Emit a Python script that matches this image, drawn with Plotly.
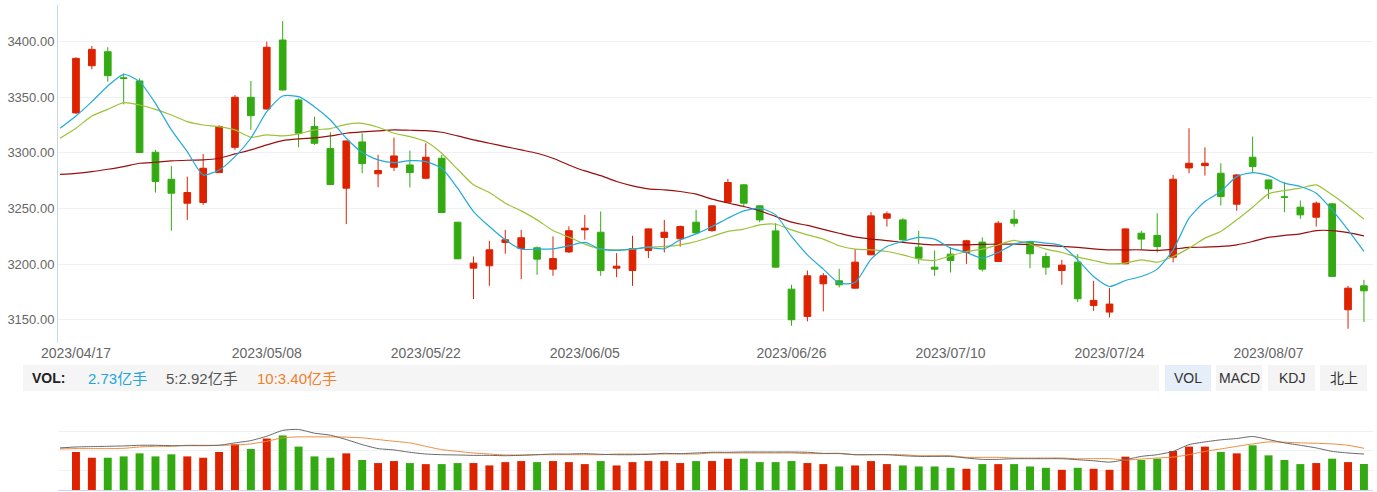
import plotly.graph_objects as go

# ---------------- data ----------------
dates = [
    "2023/04/17", "2023/04/18", "2023/04/19", "2023/04/20", "2023/04/21",
    "2023/04/24", "2023/04/25", "2023/04/26", "2023/04/27", "2023/04/28",
    "2023/05/04", "2023/05/05", "2023/05/08", "2023/05/09", "2023/05/10",
    "2023/05/11", "2023/05/12", "2023/05/15", "2023/05/16", "2023/05/17",
    "2023/05/18", "2023/05/19", "2023/05/22", "2023/05/23", "2023/05/24",
    "2023/05/25", "2023/05/26", "2023/05/29", "2023/05/30", "2023/05/31",
    "2023/06/01", "2023/06/02", "2023/06/05", "2023/06/06", "2023/06/07",
    "2023/06/08", "2023/06/09", "2023/06/12", "2023/06/13", "2023/06/14",
    "2023/06/15", "2023/06/16", "2023/06/19", "2023/06/20", "2023/06/21",
    "2023/06/26", "2023/06/27", "2023/06/28", "2023/06/29", "2023/06/30",
    "2023/07/03", "2023/07/04", "2023/07/05", "2023/07/06", "2023/07/07",
    "2023/07/10", "2023/07/11", "2023/07/12", "2023/07/13", "2023/07/14",
    "2023/07/17", "2023/07/18", "2023/07/19", "2023/07/20", "2023/07/21",
    "2023/07/24", "2023/07/25", "2023/07/26", "2023/07/27", "2023/07/28",
    "2023/07/31", "2023/08/01", "2023/08/02", "2023/08/03", "2023/08/04",
    "2023/08/07", "2023/08/08", "2023/08/09", "2023/08/10", "2023/08/11",
    "2023/08/14", "2023/08/15",
]
prev_date = "2023/04/14"   # day before window, MA lines start there

opens = [3336, 3378.4, 3391, 3367.5, 3364.7, 3300.6, 3276.3, 3254.8, 3255.4, 3282.3,
         3305, 3350, 3339.5, 3401.5, 3347.6, 3323.7, 3303.9, 3268.3, 3309.9, 3281.2,
         3287.1, 3289.2, 3277.2, 3295.2, 3237.7, 3196.4, 3198.5, 3219.5, 3214, 3214.7,
         3195.5, 3211, 3230.8, 3228.7, 3196.4, 3194.3, 3212.3, 3224, 3222.8, 3237.7,
         3230.2, 3255.7, 3271.3, 3252.4, 3229.9, 3177.5, 3153, 3182.3, 3185, 3178.4,
         3208.4, 3241.3, 3239.8, 3215.3, 3197.3, 3209, 3210.5, 3219.8, 3202.4, 3240.4,
         3219.8, 3206.9, 3194.3, 3201.8, 3162.9, 3156.9, 3200.3, 3227.8, 3225.8, 3206.3,
         3286.5, 3288.6, 3281.7, 3253.9, 3296.1, 3275.7, 3260.5, 3251.2, 3242.2, 3254.2,
         3159, 3180.5]
highs = [3386, 3396.1, 3395, 3371.6, 3367, 3302.7, 3288.3, 3278.7, 3299, 3325,
         3352, 3364.7, 3400, 3418.6, 3349, 3332.6, 3318.6, 3311, 3317.7, 3298.2,
         3313.8, 3302.1, 3308.7, 3298.2, 3238, 3206.9, 3221, 3230.8, 3230.8, 3215.9,
         3224.9, 3234, 3244.3, 3247.3, 3209.9, 3225.5, 3232, 3239.8, 3234.7, 3248.8,
         3253, 3276.6, 3272, 3253, 3236.8, 3181.4, 3194.3, 3191.9, 3195.8, 3213.5,
         3246.7, 3247.3, 3241.3, 3230, 3212.3, 3215.3, 3221.9, 3224, 3238.9, 3248.8,
         3220.4, 3210.5, 3203.9, 3209, 3185, 3178.4, 3232, 3229.9, 3245.8, 3280.2,
         3322.2, 3305, 3290.7, 3281, 3314.7, 3276, 3273.7, 3257.2, 3256.3, 3255,
         3180.5, 3185.9]
lows = [3335, 3375.2, 3364, 3343.7, 3300, 3264.4, 3230, 3239.8, 3253.3, 3282,
        3302.7, 3320.7, 3339, 3356, 3305, 3307.2, 3271, 3236, 3281.7, 3269.2,
        3283.8, 3268.9, 3276.3, 3246, 3204.5, 3168.6, 3180.5, 3209.3, 3186.5, 3190.4,
        3189.5, 3210, 3221.9, 3189.5, 3188.3, 3180.5, 3205.4, 3210.5, 3215.6, 3227,
        3229, 3255, 3251.2, 3237.7, 3197, 3144.6, 3148.5, 3157.5, 3179, 3178,
        3208, 3233.8, 3221, 3200.3, 3189.5, 3192.5, 3200.3, 3193.4, 3202, 3233.8,
        3196.4, 3190.4, 3181.4, 3165.9, 3158, 3152.1, 3200, 3213.5, 3210.5, 3201.5,
        3281.7, 3279.6, 3252.7, 3248, 3281.7, 3258.7, 3246.7, 3240.7, 3233.8, 3188.6,
        3141.9, 3148]
closes = [3385, 3393.1, 3369.5, 3367, 3300.3, 3274.3, 3263.8, 3264.4, 3286.2, 3323.7,
          3350, 3333.5, 3395, 3356.6, 3317.7, 3308.7, 3271.6, 3310.8, 3290.4, 3284.2,
          3297.3, 3282.3, 3296.1, 3246.4, 3204.8, 3200.9, 3212.9, 3221.9, 3223.7, 3204.5,
          3205, 3230, 3232.3, 3194.3, 3198.2, 3214, 3231.7, 3228.7, 3233.8, 3228.1,
          3252.4, 3273.4, 3254.8, 3239.8, 3197.3, 3150, 3189.5, 3189.5, 3181.4, 3201.8,
          3243.4, 3245.2, 3221.9, 3205.4, 3195.5, 3203.3, 3221, 3195.5, 3236.8, 3236.8,
          3209.3, 3197.3, 3199.1, 3168.9, 3167.4, 3164.1, 3231.7, 3222.5, 3215.9, 3276.3,
          3290.7, 3290.7, 3260.8, 3280.2, 3287.7, 3267.7, 3260.2, 3244.3, 3254.8, 3189,
          3178.4, 3176]

# moving-average lines (first value = prev_date)
ma5 = [3322.2,
       3333.2, 3346.1, 3360.2, 3370.7, 3364.1, 3344.6, 3320.7, 3301.2, 3280.2, 3284.7,
       3296.7, 3313.2, 3337.1, 3351.2, 3350.6, 3341.6, 3329.6, 3313.2, 3300.3, 3293.7,
       3291.3, 3293.1, 3292.2, 3286.2, 3268.3, 3247.3, 3233.8, 3221.9, 3213.5, 3213.5,
       3213.8, 3216.5, 3219.5, 3213.5, 3212.3, 3213.5, 3215.0, 3213.8, 3221.9, 3227.2,
       3233.8, 3241.3, 3247.9, 3250.3, 3244.3, 3224.9, 3208.4, 3195.5, 3182.9, 3183.5,
       3204.5, 3215.9, 3220.4, 3224.0, 3222.5, 3214.4, 3210.5, 3205.4, 3210.5, 3218.0,
       3220.4, 3218.9, 3216.5, 3203.9, 3188.9, 3179.9, 3185.3, 3188.9, 3195.5, 3212.9,
       3241.3, 3256.3, 3265.3, 3278.7, 3282.3, 3279.6, 3272.8, 3269.8, 3263.8, 3248.8,
       3230.8, 3211.4]
ma10 = [3313.2,
        3322.2, 3333.2, 3339.2, 3345.2, 3343.1, 3339.2, 3334.1, 3328.1, 3325.1, 3323.7,
        3320.7, 3314.1, 3316.2, 3315.3, 3317.1, 3320.7, 3321.9, 3325.7, 3326.6, 3323.1,
        3317.7, 3314.7, 3310.2, 3299.7, 3285.3, 3271.3, 3264.4, 3254.8, 3247.9, 3239.8,
        3230.2, 3224.3, 3218.0, 3213.5, 3212.9, 3213.5, 3215.3, 3215.9, 3217.4, 3220.4,
        3224.9, 3229.4, 3231.5, 3235.3, 3235.9, 3230.8, 3226.3, 3222.5, 3216.5, 3213.5,
        3212.9, 3211.4, 3208.4, 3204.5, 3203.3, 3207.5, 3211.4, 3213.5, 3217.4, 3221.3,
        3218.0, 3213.5, 3210.5, 3206.3, 3203.3, 3200.3, 3200.9, 3203.9, 3201.8, 3206.9,
        3214.4, 3223.4, 3229.4, 3239.8, 3251.2, 3263.2, 3266.2, 3268.3, 3271.3, 3262.3,
        3251.8, 3240.4]
ma20 = [3280.8,
        3281.7, 3283.2, 3285.3, 3287.7, 3290.7, 3291.6, 3292.8, 3293.4, 3293.7, 3295.2,
        3299.1, 3302.7, 3307.2, 3311.1, 3312.6, 3313.5, 3315.3, 3317.7, 3318.9, 3319.8,
        3320.7, 3320.4, 3320.1, 3318.6, 3315.3, 3311.7, 3308.7, 3305.7, 3302.7, 3299.7,
        3295.2, 3289.2, 3283.8, 3279.6, 3274.3, 3270.4, 3267.7, 3266.8, 3265.3, 3262.9,
        3258.5, 3255.0, 3251.8, 3248.0, 3242.8, 3237.8, 3234.8, 3231.2, 3227.8, 3224.5,
        3222.5, 3221.2, 3219.5, 3218.3, 3217.4, 3217.4, 3217.4, 3217.7, 3218.0, 3218.0,
        3217.7, 3216.8, 3215.9, 3215.0, 3213.8, 3212.9, 3212.9, 3212.9, 3212.3, 3213.5,
        3215.0, 3215.3, 3215.9, 3217.4, 3220.4, 3224.0, 3225.8, 3227.2, 3230.2, 3230.2,
        3228.4, 3225.4]

# volume, 亿手
volume = [3.99, 3.39, 3.39, 3.53, 3.85, 3.53, 3.75, 3.53, 3.39, 3.99,
          4.81, 4.31, 5.41, 5.73, 4.56, 3.53, 3.39, 3.85, 3.15, 2.83,
          3.04, 2.83, 2.72, 2.72, 2.83, 2.83, 2.58, 2.93, 3.04, 2.93,
          3.04, 2.93, 2.72, 3.04, 2.58, 2.93, 3.04, 3.04, 2.83, 3.04,
          3.04, 3.29, 3.29, 2.93, 2.93, 3.04, 2.83, 2.72, 2.47, 2.58,
          3.04, 2.72, 2.58, 2.47, 2.47, 2.33, 2.23, 2.72, 2.72, 2.72,
          2.47, 2.33, 2.12, 2.33, 2.23, 2.12, 3.50, 3.15, 3.29, 4.10,
          4.56, 4.56, 4.00, 3.85, 4.70, 3.64, 3.15, 2.72, 2.83, 3.29,
          2.93, 2.73]
vol_ma5 = [4.42,
           4.52, 4.56, 4.59, 4.63, 4.70, 4.70, 4.66, 4.66, 4.66, 4.70,
           4.95, 5.19, 5.65, 6.26, 6.36, 5.97, 5.76, 5.30, 4.77, 4.35,
           4.21, 3.96, 3.78, 3.71, 3.68, 3.64, 3.64, 3.60, 3.64, 3.71,
           3.78, 3.78, 3.82, 3.75, 3.71, 3.71, 3.75, 3.85, 3.82, 3.89,
           3.96, 3.96, 3.99, 3.99, 3.99, 3.99, 3.96, 3.85, 3.85, 3.71,
           3.71, 3.71, 3.60, 3.53, 3.53, 3.53, 3.36, 3.22, 3.22, 3.29,
           3.29, 3.29, 3.29, 3.18, 3.07, 2.93, 3.18, 3.53, 3.71, 4.06,
           4.77, 5.05, 5.27, 5.41, 5.62, 5.30, 4.95, 4.70, 4.42, 4.06,
           3.89, 3.78]
vol_ma10 = [4.31,
            4.35, 4.35, 4.35, 4.38, 4.52, 4.59, 4.59, 4.70, 4.70, 4.70,
            4.74, 4.84, 5.12, 5.48, 5.58, 5.58, 5.58, 5.55, 5.48, 5.30,
            5.12, 4.95, 4.59, 4.24, 4.06, 3.89, 3.78, 3.68, 3.68, 3.71,
            3.71, 3.71, 3.71, 3.71, 3.78, 3.78, 3.78, 3.78, 3.78, 3.78,
            3.89, 3.89, 3.89, 3.89, 3.89, 3.89, 3.82, 3.82, 3.82, 3.71,
            3.71, 3.71, 3.71, 3.60, 3.60, 3.60, 3.43, 3.43, 3.43, 3.36,
            3.36, 3.36, 3.36, 3.29, 3.29, 3.29, 3.15, 3.25, 3.36, 3.46,
            3.71, 4.06, 4.31, 4.59, 4.84, 5.05, 5.02, 4.95, 4.91, 4.84,
            4.70, 4.38]

tick_labels = ["2023/04/17", "2023/05/08", "2023/05/22", "2023/06/05",
               "2023/06/26", "2023/07/10", "2023/07/24", "2023/08/07"]
price_ticks = [3150, 3200, 3250, 3300, 3350, 3400]
header_values = ["2.73亿手", "5:2.92亿手", "10:3.40亿手"]
buttons = ["VOL", "MACD", "KDJ", "北上"]

# ---------------- layout helpers ----------------
W, H = 1377, 492
def fx(p):
    return p / W
def fy(p):
    return 1 - p / H

RED = "#dd2200"
GREEN = "#33aa11"
FONT = "Liberation Sans, Arial, Noto Sans CJK SC, sans-serif"

x = list(range(len(dates)))
all_dates = [prev_date] + dates
x_ma = [all_dates.index(d) - 1 for d in all_dates]
vol_colors = [RED if c >= o else GREEN for o, c in zip(opens, closes)]

fig = go.Figure()

fig.add_trace(go.Candlestick(
    x=x, open=opens, high=highs, low=lows, close=closes,
    increasing=dict(fillcolor=RED, line=dict(color=RED, width=1)),
    decreasing=dict(fillcolor=GREEN, line=dict(color=GREEN, width=1)),
    whiskerwidth=0, xaxis="x", yaxis="y", showlegend=False,
))
for vals, col in [(ma20, "#9a0e0e"), (ma10, "#9cc23a"), (ma5, "#22aad8")]:
    fig.add_trace(go.Scatter(
        x=x_ma, y=vals, mode="lines",
        line=dict(color=col, width=1.2, shape="spline", smoothing=0.6),
        xaxis="x", yaxis="y", showlegend=False, hoverinfo="skip"))

fig.add_trace(go.Bar(
    x=x, y=volume, marker=dict(color=vol_colors, line=dict(width=0)),
    width=0.5, xaxis="x2", yaxis="y2", showlegend=False))
for vals, col in [(vol_ma10, "#f08a3a"), (vol_ma5, "#666666")]:
    fig.add_trace(go.Scatter(
        x=x_ma, y=vals, mode="lines",
        line=dict(color=col, width=1.0, shape="spline", smoothing=0.6),
        xaxis="x2", yaxis="y2", showlegend=False, hoverinfo="skip"))

xr = [-1.13, 81.57]
xdom = [fx(58), fx(1373)]
tickvals = [dates.index(t) for t in tick_labels]

shapes = [dict(type="rect", xref="paper", yref="paper",
               x0=fx(23), x1=fx(1159), y0=fy(391), y1=fy(365),
               fillcolor="#f5f5f5", line=dict(width=0), layer="below")]
btn_x = [(1165, 1211), (1216, 1262), (1268, 1315), (1320, 1367)]
annotations = []
for (a, b), label in zip(btn_x, buttons):
    shapes.append(dict(type="rect", xref="paper", yref="paper",
                       x0=fx(a), x1=fx(b), y0=fy(391), y1=fy(365),
                       fillcolor="#e6eef9" if label == "VOL" else "#f4f4f4",
                       line=dict(width=0), layer="below"))
    annotations.append(dict(text=label, xref="paper", yref="paper",
                            x=fx((a + b) / 2), y=fy(378), xanchor="center",
                            yanchor="middle", showarrow=False,
                            font=dict(size=14, color="#333333", family=FONT)))

annotations.append(dict(text="<b>VOL:</b>", xref="paper", yref="paper",
                        x=fx(30), y=fy(378), xanchor="left", yanchor="middle",
                        showarrow=False, font=dict(size=14, color="#222222", family=FONT)))
for xpos, txt, col in zip([86, 164, 255], header_values, ["#24a6d8", "#555555", "#f0802c"]):
    annotations.append(dict(text=txt, xref="paper", yref="paper",
                            x=fx(xpos), y=fy(378), xanchor="left", yanchor="middle",
                            showarrow=False, font=dict(size=15, color=col, family=FONT)))

fig.update_layout(
    width=W, height=H,
    margin=dict(l=0, r=0, t=0, b=0, autoexpand=False),
    paper_bgcolor="white", plot_bgcolor="white",
    font=dict(family=FONT, color="#666666"),
    showlegend=False, boxgap=0.4, bargap=0.5,
    xaxis=dict(domain=xdom, range=xr, anchor="y", showgrid=False, zeroline=False,
               showline=False, tickmode="array", tickvals=tickvals, ticktext=tick_labels,
               ticks="", tickfont=dict(size=14, color="#666666"), automargin=False,
               rangeslider=dict(visible=False), fixedrange=True),
    yaxis=dict(domain=[fy(343), fy(5)], range=[3129.1, 3433], anchor="x",
               tickmode="array", tickvals=price_ticks, tickformat=".2f",
               showgrid=True, gridcolor="#eef1f5", gridwidth=1, zeroline=False,
               showline=True, linecolor="#c9d6ee", linewidth=1, ticks="",
               automargin=False, tickfont=dict(size=13, color="#666666")),
    xaxis2=dict(domain=xdom, range=xr, anchor="y2", showgrid=False, zeroline=False,
                showline=True, linecolor="#c9d6ee", linewidth=1, showticklabels=False,
                ticks="", automargin=False),
    yaxis2=dict(domain=[fy(490), fy(411)], range=[0, 8.3], anchor="x2",
                tickmode="array", tickvals=[2.05, 4.1, 6.15, 8.2],
                showgrid=True, gridcolor="#eef1f5", gridwidth=1, zeroline=False,
                showline=False, showticklabels=False, ticks="", automargin=False),
    shapes=shapes, annotations=annotations,
)

fig.write_html("out.html")
